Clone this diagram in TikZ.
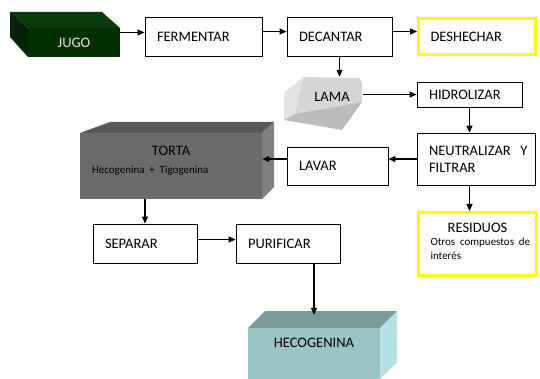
\documentclass[tikz,border=0pt]{standalone}
\usepackage{fontspec}
\setmainfont{Carlito}
\usetikzlibrary{arrows.meta}

% face colours of the solid blocks
\definecolor{jugotop}{HTML}{0B3B0B}
\definecolor{jugofront}{HTML}{033003}
\definecolor{jugoside}{HTML}{022402}
\definecolor{lamafront}{HTML}{D6D6D6}
\definecolor{lamaside}{HTML}{E4E4E4}
\definecolor{lamabottom}{HTML}{BBBBBB}
\definecolor{tortatop}{HTML}{585858}
\definecolor{tortafront}{HTML}{6B6B6B}
\definecolor{tortaside}{HTML}{808080}
\definecolor{hectop}{HTML}{7A9A97}
\definecolor{hecfront}{HTML}{9CC4C4}
\definecolor{hecside}{HTML}{B3E1E1}
\definecolor{waste}{HTML}{FFFF00}

\begin{document}
\begin{tikzpicture}[x=1pt,y=-1pt,
  mainfont/.style={font=\fontsize{14.5}{17}\selectfont},
  procbox/.style={draw=black, line width=0.8pt, fill=white, align=left,
    inner xsep=12pt, inner ysep=0pt, mainfont},
  wastebox/.style={procbox, draw=waste, line width=3pt},
  solidface/.style={inner sep=0pt, align=center, mainfont},
  arr/.style={-{Triangle[length=7pt,width=6pt]}, line width=1.2pt}
]
\useasboundingbox (0,0) rectangle (540,379);
\clip (0,0) rectangle (540,379);

% --- JUGO block
\fill[jugotop] (10,12) -- (102,12) -- (120,28) -- (28,28) -- cycle;
\fill[jugoside] (10,12) -- (28,28) -- (28,57) -- (10,37) -- cycle;
\node[solidface, fill=jugofront, text=white!90!black, minimum width=92pt,
  minimum height=29pt] (jugo) at (74,42.5) {\raisebox{-2pt}{JUGO}};

% --- LAMA block
\fill[lamafront] (303,77) -- (359,78) -- (362,82) -- (362,102) -- (295,114) -- cycle;
\fill[lamaside] (303,77) -- (295,114) -- (284,120) -- (284,93) -- cycle;
\fill[lamabottom] (295,114) -- (362,102) -- (342,130) -- (284,120) -- cycle;
\node[solidface, minimum width=62pt, minimum height=40pt] (lama) at (332,97) {LAMA};

% --- TORTA block
\fill[tortatop] (80,133) -- (110,122) -- (274,122) -- (262,133) -- cycle;
\fill[tortaside] (262,133) -- (274,122) -- (274,187) -- (262,199) -- cycle;
\node[solidface, fill=tortafront, align=left, text width=158pt, inner xsep=12pt,
  minimum height=66pt, font=\fontsize{14.5}{19}\selectfont] (torta) at (171,166)
  {\makebox[\linewidth][c]{TORTA}\\{\fontsize{11}{18}\selectfont \mbox{Hecogenina + Tigogenina}\rule[-12pt]{0pt}{0pt}\par}};

% --- HECOGENINA block
\fill[hectop] (248,328) -- (265,311) -- (397,311) -- (380,328) -- cycle;
\fill[hecside] (380,328) -- (397,311) -- (397,362) -- (380,379) -- cycle;
\node[solidface, fill=hecfront, minimum width=132pt, minimum height=51pt]
  (hecog) at (314,353.5) {HECOGENINA\rule[-21pt]{0pt}{0pt}};

% --- process steps
\node[procbox, text width=93pt, minimum height=39pt] (ferm) at (203.5,36.5) {FERMENTAR};
\node[procbox, text width=81pt, minimum height=39pt] (dec) at (339.5,36.5) {DECANTAR};
\node[wastebox, text width=93pt, minimum height=36pt] (desh) at (477,36.5) {DESHECHAR};
\node[procbox, text width=81pt, minimum height=25pt] (hidro) at (469.5,94.5) {HIDROLIZAR};
\node[procbox, text width=94pt, minimum height=52pt] (neut) at (476,159)
  {\mbox{NEUTRALIZAR\ \ Y}\\FILTRAR};
\node[procbox, text width=77pt, minimum height=38pt] (lavar) at (337.5,166) {LAVAR};
\node[procbox, text width=80pt, minimum height=39pt] (sep) at (145,243.5) {SEPARAR};
\node[procbox, text width=80pt, minimum height=39pt] (pur) at (288,243.5) {PURIFICAR};
\node[wastebox, text width=94pt, minimum height=63pt,
  font=\fontsize{14.5}{13.5}\selectfont] (resid) at (477.5,244)
  {\makebox[\linewidth][c]{RESIDUOS}\\{\fontsize{11}{13.5}\selectfont \mbox{Otros compuestos de}\\interés\rule[-6pt]{0pt}{0pt}\par}};

% --- connectors
\draw[arr] ([yshift=4pt]ferm.west -| jugo.east) -- ([yshift=4pt]ferm.west);
\draw[arr] ([yshift=5pt]ferm.east) -- ([yshift=5pt]dec.west);
\draw[arr] ([yshift=5pt]dec.east) -- ([yshift=5pt]desh.west);
\draw[arr] (dec.south) -- (dec.south |- lama.north);
\draw[arr] (lama.east |- hidro.west) -- (hidro.west);
\draw[arr] (hidro.south) -- (hidro.south |- neut.north);
\draw[arr] (neut.west) -- (neut.west -| lavar.east);
\draw[arr] (neut.west -| lavar.west) -- (neut.west -| torta.east);
\draw[arr] (hidro.south |- neut.south) -- (hidro.south |- resid.north);
\draw[arr] (sep.north |- torta.south) -- (sep.north);
\draw[arr] ([yshift=4pt]sep.east) -- ([yshift=4pt]pur.west);
\draw[arr] (hecog.north |- pur.south) -- ([yshift=13pt]hecog.north);
\end{tikzpicture}
\end{document}
